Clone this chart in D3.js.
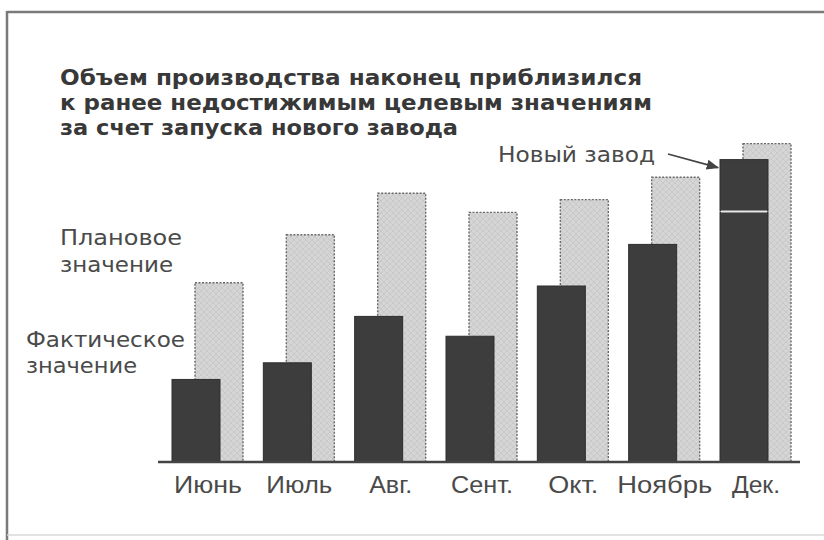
<!DOCTYPE html>
<html>
<head>
<meta charset="utf-8">
<script src="https://cdn.jsdelivr.net/npm/d3@7/dist/d3.min.js"></script>
<style>
  html, body { margin: 0; padding: 0; background: #fff; }
  svg { display: block; }
</style>
</head>
<body>
<svg id="chart" width="824" height="540"></svg>
<script>
// ---- data ----
const months = ["Июнь", "Июль", "Авг.", "Сент.", "Окт.", "Ноябрь", "Дек."];
const actual = [25.8, 31, 45.5, 39.3, 55, 68, 78];      // existing plant output
const newPlant = [0, 0, 0, 0, 0, 0, 16.5];              // added by new plant
const plan = [56, 71, 84, 78, 82, 89, 99.5];
const titleLines = [
  "Объем производства наконец приблизился",
  "к ранее недостижимым целевым значениям",
  "за счет запуска нового завода"
];
const planLabel = ["Плановое", "значение"];
const actualLabel = ["Фактическое", "значение"];
const newPlantLabel = "Новый завод";

// ---- setup ----
const svg = d3.select("#chart");
const W = 824, H = 540;

// fit a text element to a target width (matching the wide typeface of the original)
function fit(sel, widths) {
  sel.each(function (d, i) {
    const w = Array.isArray(widths) ? widths[i] : widths;
    d3.select(this).attr("textLength", w).attr("lengthAdjust", "spacingAndGlyphs");
  });
}

const defs = svg.append("defs");
const pat = defs.append("pattern")
  .attr("id", "hatch").attr("patternUnits", "userSpaceOnUse")
  .attr("width", 6).attr("height", 6);
pat.append("rect").attr("width", 6).attr("height", 6).attr("fill", "#d5d5d5");
pat.append("path").attr("d", "M0,6 L6,0 M0,0 L6,6")
  .attr("stroke", "#c6c6c6").attr("stroke-width", 0.8);

const defsM = defs.append("marker")
  .attr("id", "arrow").attr("viewBox", "0 0 10 10")
  .attr("refX", 9).attr("refY", 5)
  .attr("markerWidth", 7).attr("markerHeight", 7)
  .attr("orient", "auto");
defsM.append("path").attr("d", "M0,1 L10,5 L0,9 Z").attr("fill", "#444");

// frame
svg.append("line").attr("x1", 7).attr("x2", W).attr("y1", 12).attr("y2", 12)
  .attr("stroke", "#7a7a7a").attr("stroke-width", 2.5);
svg.append("line").attr("x1", 7).attr("x2", 7).attr("y1", 11).attr("y2", H)
  .attr("stroke", "#7a7a7a").attr("stroke-width", 2.5);
svg.append("line").attr("x1", 7).attr("x2", W).attr("y1", 535).attr("y2", 535)
  .attr("stroke", "#d8d8d8").attr("stroke-width", 1.5);

// scales
const x = d3.scalePoint().domain(months).range([207.5, 755.5]);
const y = d3.scaleLinear().domain([0, 100]).range([462, 142]);
const bw = 48, off = 35.5;

const rows = months.map((m, i) => ({ m, a: actual[i], n: newPlant[i], p: plan[i] }));

// plan bars
svg.append("g").selectAll("rect").data(rows).join("rect")
  .attr("x", d => x(d.m) + off - bw)
  .attr("y", d => y(d.p))
  .attr("width", bw)
  .attr("height", d => y(0) - y(d.p))
  .attr("fill", "url(#hatch)")
  .attr("stroke", "#6a6a6a")
  .attr("stroke-width", 1.4)
  .attr("stroke-dasharray", "2,1.5");

// actual bars (existing plant)
svg.append("g").selectAll("rect").data(rows).join("rect")
  .attr("x", d => x(d.m) - off)
  .attr("y", d => y(d.a))
  .attr("width", bw)
  .attr("height", d => y(0) - y(d.a))
  .attr("fill", "#3d3d3d")
  .attr("stroke", "#2e2e2e")
  .attr("stroke-width", 1);

// new plant segment
svg.append("g").selectAll("rect").data(rows.filter(d => d.n > 0)).join("rect")
  .attr("x", d => x(d.m) - off)
  .attr("y", d => y(d.a + d.n))
  .attr("width", bw)
  .attr("height", d => y(d.a) - y(d.a + d.n) - 1.5)
  .attr("fill", "#3d3d3d")
  .attr("stroke", "#2e2e2e")
  .attr("stroke-width", 1);
svg.append("g").selectAll("line").data(rows.filter(d => d.n > 0)).join("line")
  .attr("x1", d => x(d.m) - off + 1).attr("x2", d => x(d.m) - off + bw - 1)
  .attr("y1", d => y(d.a) - 0.8).attr("y2", d => y(d.a) - 0.8)
  .attr("stroke", "#e8e8e8").attr("stroke-width", 2);

// baseline axis
const axis = svg.append("g").attr("transform", `translate(0,${y(0)})`)
  .call(d3.axisBottom(x).tickSize(0).tickPadding(14));
axis.select(".domain").attr("d", "M158,0H800").attr("stroke", "#444").attr("stroke-width", 2.5);
axis.selectAll("text")
  .attr("font-family", "Liberation Sans, Arial, sans-serif")
  .attr("font-size", 24).attr("fill", "#4a4a4a")
  .call(fit, [68, 66, 43, 62, 50, 95, 48]);

// title
svg.append("g").selectAll("text").data(titleLines).join("text")
  .attr("x", 60).attr("y", (d, i) => 85 + i * 25)
  .attr("font-family", "DejaVu Sans, sans-serif")
  .attr("font-weight", "bold").attr("font-size", 21)
  .attr("fill", "#383838")
  .text(d => d)
  .call(fit, [582, 592, 398]);

// labels
svg.append("g").selectAll("text").data(planLabel).join("text")
  .attr("x", 60).attr("y", (d, i) => 245 + i * 27)
  .attr("font-family", "DejaVu Sans, sans-serif")
  .attr("font-size", 21).attr("fill", "#4a4a4a")
  .text(d => d)
  .call(fit, [122, 113]);
svg.append("g").selectAll("text").data(actualLabel).join("text")
  .attr("x", 26).attr("y", (d, i) => 347 + i * 26)
  .attr("font-family", "DejaVu Sans, sans-serif")
  .attr("font-size", 21).attr("fill", "#4a4a4a")
  .text(d => d)
  .call(fit, [159, 111]);
svg.append("text").attr("x", 498).attr("y", 162)
  .attr("font-family", "DejaVu Sans, sans-serif")
  .attr("font-size", 21).attr("fill", "#4a4a4a")
  .text(newPlantLabel)
  .call(fit, 157);

// arrow to new plant segment
const dec = rows[rows.length - 1];
svg.append("line")
  .attr("x1", 668).attr("y1", 154)
  .attr("x2", x(dec.m) - off - 2).attr("y2", y(dec.a + dec.n) + 8)
  .attr("stroke", "#444").attr("stroke-width", 1.8)
  .attr("marker-end", "url(#arrow)");
</script>
</body>
</html>
